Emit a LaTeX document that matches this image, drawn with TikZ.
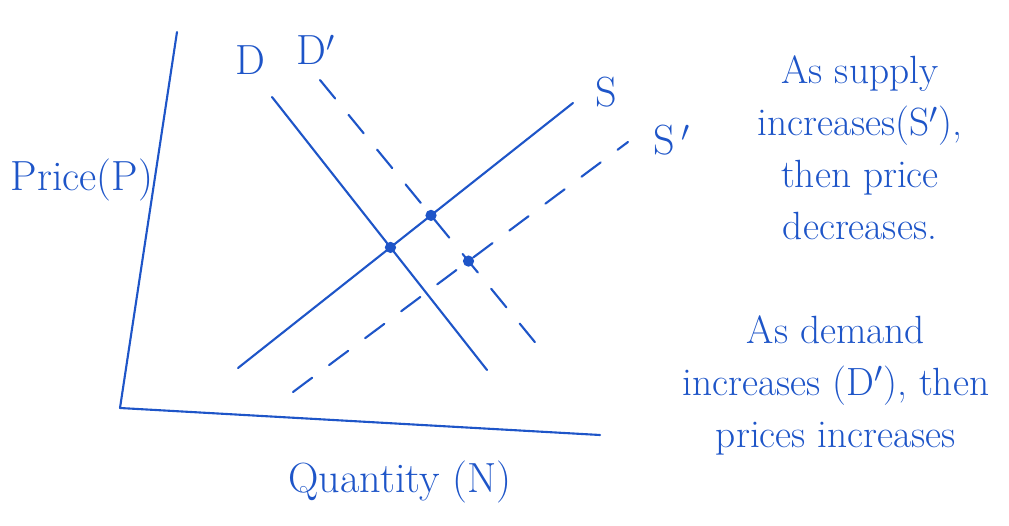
\documentclass[tikz,border=0pt]{standalone}
\usepackage{fontspec}
\definecolor{ink}{RGB}{30,85,200}
\tikzset{
  dot/.style={circle,fill=ink,inner sep=0pt,minimum size=8pt},
  shifted/.style={dash pattern=on 17pt off 15pt},
  note/.style={align=center,font=\fontsize{28}{37}\selectfont}
}
\begin{document}
\begin{tikzpicture}[line join=round, line cap=round, x=0.025cm, y=-0.025cm, color=ink, line width=1.5pt, font=\fontsize{30}{34}\selectfont]
			\useasboundingbox (0,0) rectangle (1009,526);
			% axes
			\coordinate (O) at (120,408);
			\coordinate (ytop) at (177,32);
			\coordinate (xend) at (600,435);
			\draw (ytop)--(O)--(xend);
			\node (price) at (82,180) {Price(P)};
			\node (qty) at (400,482) {Quantity (N)};
			% demand and supply
			\coordinate (Dtop) at (272,97);
			\coordinate (Dbot) at (487,370);
			\coordinate (Dptop) at (320,80);
			\coordinate (Dpbot) at (543,352);
			\coordinate (Sbot) at (238,368);
			\coordinate (Stop) at (573,103);
			\coordinate (Spbot) at (293,392);
			\coordinate (Sptop) at (628,142);
			\draw (Dtop)--(Dbot) (Sbot)--(Stop);
			\draw[shifted] (Dptop)--(Dpbot);
			\draw[shifted] (Spbot)--(Sptop);
			\node (lD) at (250,60) {D};
			\node (lDp) at (316,50) {D$'$};
			\node (lS) at (606,92) {S};
			\node (lSp) at (672,140) {S$\,'$};
			% equilibria
			\node[dot] (e0) at (intersection of Dtop--Dbot and Sbot--Stop) {};
			\node[dot] (e1) at (intersection of Dptop--Dpbot and Sbot--Stop) {};
			\node[dot] (e2) at (intersection of Dptop--Dpbot and Spbot--Sptop) {};
			% notes
			\node[note] (supply) at (860,148) {As supply\\ increases(S$'$),\\ then price\\ decreases.};
			\node[note] (demand) at (836,385) {As demand\\ increases (D$'$), then\\ prices increases};
		\end{tikzpicture}
\end{document}
